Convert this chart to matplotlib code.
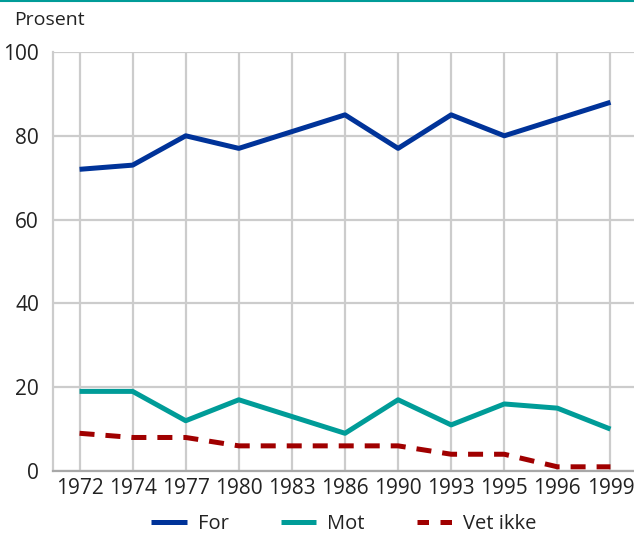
import matplotlib
matplotlib.use("Agg")
import matplotlib.pyplot as plt
from matplotlib.lines import Line2D

years = ["1972", "1974", "1977", "1980", "1983", "1986", "1990", "1993", "1995", "1996", "1999"]
for_vals = [72, 73, 80, 77, 81, 85, 77, 85, 80, 84, 88]
mot_vals = [19, 19, 12, 17, 13, 9, 17, 11, 16, 15, 10]
vet_vals = [9, 8, 8, 6, 6, 6, 6, 4, 4, 1, 1]
yticks = [0, 20, 40, 60, 80, 100]
series_names = ["For", "Mot", "Vet ikke"]

plt.rcParams['font.family'] = ['Open Sans', 'DejaVu Sans']

W, H = 634, 534
fig = plt.figure(figsize=(W / 100, H / 100), dpi=100)
ax = fig.add_axes([53 / W, 1 - 471 / H, (637 - 53) / W, (471 - 52) / H])

x = list(range(len(years)))
c_for = "#003399"
c_mot = "#009c98"
c_vet = "#a00000"
lw = 3.6
ax.plot(x, for_vals, color=c_for, lw=lw, solid_capstyle="butt", zorder=3)
ax.plot(x, mot_vals, color=c_mot, lw=lw, solid_capstyle="butt", zorder=3)
ax.plot(x, vet_vals, color=c_vet, lw=lw, dashes=(3, 2.2), dash_capstyle="butt", zorder=3)

ax.set_xlim(-0.5, len(years) - 0.5)
ax.set_ylim(0, 100)
ax.set_xticks(x)
ax.set_xticklabels(years)
ax.set_yticks(yticks)
ax.grid(True, color="#cccccc", lw=1.6)
ax.set_axisbelow(True)
for s in ["top", "right"]:
    ax.spines[s].set_visible(False)
ax.spines["left"].set_color("#cccccc")
ax.spines["left"].set_linewidth(1.6)
ax.spines["bottom"].set_color("#a8a8a8")
ax.spines["bottom"].set_linewidth(1.6)
ax.tick_params(length=0, labelsize=15, colors="#222222", pad=5)
ax.tick_params(axis="y", pad=10)

fig.add_artist(Line2D([0, 1], [1 - 1 / H, 1 - 1 / H], color="#009c98", lw=1.5, transform=fig.transFigure))
fig.text(14 / W, 1 - 20 / H, "Prosent", fontsize=14, color="#222222", va="center", ha="left")

handles = [
    Line2D([], [], color=c_for, lw=lw, solid_capstyle="butt"),
    Line2D([], [], color=c_mot, lw=lw, solid_capstyle="butt"),
    Line2D([], [], color=c_vet, lw=lw, dashes=(2.3, 2.3), dash_capstyle="butt"),
]
fig.legend(handles, series_names, loc="center", bbox_to_anchor=(344 / W, 1 - 524 / H),
           ncol=3, frameon=False, fontsize=14.5, handlelength=1.75, columnspacing=2.6,
           handletextpad=0.55, labelcolor="#222222")

fig.savefig("out.png", dpi=100)
